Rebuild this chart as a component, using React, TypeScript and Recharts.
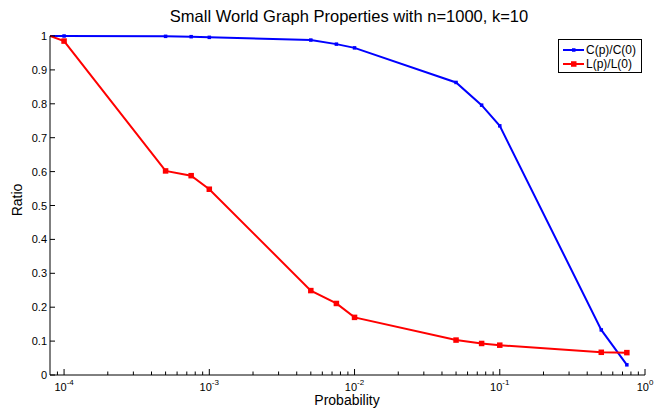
import React from 'react';
import { LineChart, Line, XAxis, YAxis } from 'recharts';

const probabilities = [8e-5, 1e-4, 5e-4, 7.5e-4, 1e-3, 5e-3, 7.5e-3, 1e-2, 5e-2, 7.5e-2, 1e-1, 5e-1, 7.5e-1];
const clustering = [1.0, 1.0, 0.999, 0.998, 0.996, 0.988, 0.976, 0.965, 0.863, 0.796, 0.735, 0.133, 0.03];
const pathLength = [1.0, 0.985, 0.602, 0.588, 0.548, 0.249, 0.211, 0.17, 0.103, 0.093, 0.088, 0.067, 0.066];

const decadeExponents = [-4, -3, -2, -1, 0];
const yTicks = [0, 0.1, 0.2, 0.3, 0.4, 0.5, 0.6, 0.7, 0.8, 0.9, 1];

// major decade ticks plus minor 2..9 multiples inside the domain
const xTicks: number[] = [9e-5];
decadeExponents.forEach(e => {
  for (let k = 1; k <= 9; k++) {
    const v = k * Math.pow(10, e);
    if (v <= 1) xTicks.push(v);
  }
});

const chartData = probabilities.map((p, i) => ({
  p,
  c: clustering[i],
  l: pathLength[i]
}));

const FONT = '"Liberation Sans", Arial, Helvetica, sans-serif';

const XTick = (props: any) => {
  const { x, y, payload } = props;
  const lg = Math.log10(payload.value);
  const major = Math.abs(lg - Math.round(lg)) < 1e-6;
  return (
    <g>
      <line x1={x} x2={x} y1={y} y2={y - (major ? 6 : 3.5)} stroke="#000" />
      {major && (
        <text x={x} y={y + 16} textAnchor="middle" fontSize={11} fontFamily={FONT} fill="#000">
          10
          <tspan dy={-6} fontSize={8}>{Math.round(lg)}</tspan>
        </text>
      )}
    </g>
  );
};

const YTick = (props: any) => {
  const { x, y, payload } = props;
  const v = payload.value;
  const label = v === 0 || v === 1 ? String(v) : v.toFixed(1);
  return (
    <g>
      <line x1={x} x2={x + 5} y1={y} y2={y} stroke="#000" />
      <text x={x - 3} y={y} dy={4} textAnchor="end" fontSize={11} fontFamily={FONT} fill="#000">
        {label}
      </text>
    </g>
  );
};

// the first point sits on the axis edge, its marker is clipped away in the original
const blueDot = (props: any) =>
  props.index === 0 ? (
    <g key={props.key ?? props.index} />
  ) : (
    <rect key={props.key ?? props.index} x={props.cx - 1.75} y={props.cy - 1.75} width={3.5} height={3.5} fill="#0000ff" />
  );
const redDot = (props: any) =>
  props.index === 0 ? (
    <g key={props.key ?? props.index} />
  ) : (
    <rect key={props.key ?? props.index} x={props.cx - 2.75} y={props.cy - 2.75} width={5.5} height={5.5} fill="#ff0000" />
  );

export default function App() {
  return (
    <div style={{ position: 'absolute', left: 0, top: 0, width: 654, height: 409, background: '#fff', fontFamily: FONT }}>
      <LineChart width={654} height={409} data={chartData} margin={{ top: 36, right: 9, bottom: 4, left: 10 }}>
        <XAxis
          dataKey="p"
          type="number"
          scale="log"
          domain={[8e-5, 1]}
          allowDataOverflow
          ticks={xTicks}
          interval={0}
          tick={<XTick />}
          tickLine={false}
          tickSize={0}
          tickMargin={0}
          height={30}
          axisLine={{ stroke: '#000' }}
        />
        <YAxis
          type="number"
          domain={[0, 1]}
          ticks={yTicks}
          interval={0}
          tick={<YTick />}
          tickLine={false}
          tickSize={0}
          tickMargin={0}
          width={40}
          axisLine={{ stroke: '#000' }}
        />
        <Line dataKey="c" stroke="#0000ff" strokeWidth={2} dot={blueDot} isAnimationActive={false} />
        <Line dataKey="l" stroke="#ff0000" strokeWidth={2} dot={redDot} isAnimationActive={false} />
      </LineChart>

      <div style={{ position: 'absolute', left: 0, width: 698, top: 7, textAlign: 'center', fontSize: 16.5, color: '#000' }}>
        Small World Graph Properties with n=1000, k=10
      </div>
      <div style={{ position: 'absolute', left: 297, width: 100, top: 392, textAlign: 'center', fontSize: 14, color: '#000' }}>
        Probability
      </div>
      <div style={{ position: 'absolute', left: 17, top: 200, transform: 'translate(-50%, -50%) rotate(-90deg)', fontSize: 14, color: '#000' }}>
        Ratio
      </div>

      <div style={{ position: 'absolute', left: 558, top: 39, width: 82, height: 32, border: '1px solid #000', background: '#fff', fontSize: 12, color: '#000' }}>
        <div style={{ position: 'absolute', left: 4, top: 3, display: 'flex', alignItems: 'center', height: 14 }}>
          <svg width={22} height={14}>
            <line x1={0} x2={21} y1={7} y2={7} stroke="#0000ff" strokeWidth={2} />
            <rect x={9} y={5.25} width={3.5} height={3.5} fill="#0000ff" />
          </svg>
          <span style={{ marginLeft: 1 }}>C(p)/C(0)</span>
        </div>
        <div style={{ position: 'absolute', left: 4, top: 17, display: 'flex', alignItems: 'center', height: 14 }}>
          <svg width={22} height={14}>
            <line x1={0} x2={21} y1={7} y2={7} stroke="#ff0000" strokeWidth={2} />
            <rect x={8} y={4.25} width={5.5} height={5.5} fill="#ff0000" />
          </svg>
          <span style={{ marginLeft: 1 }}>L(p)/L(0)</span>
        </div>
      </div>
    </div>
  );
}
